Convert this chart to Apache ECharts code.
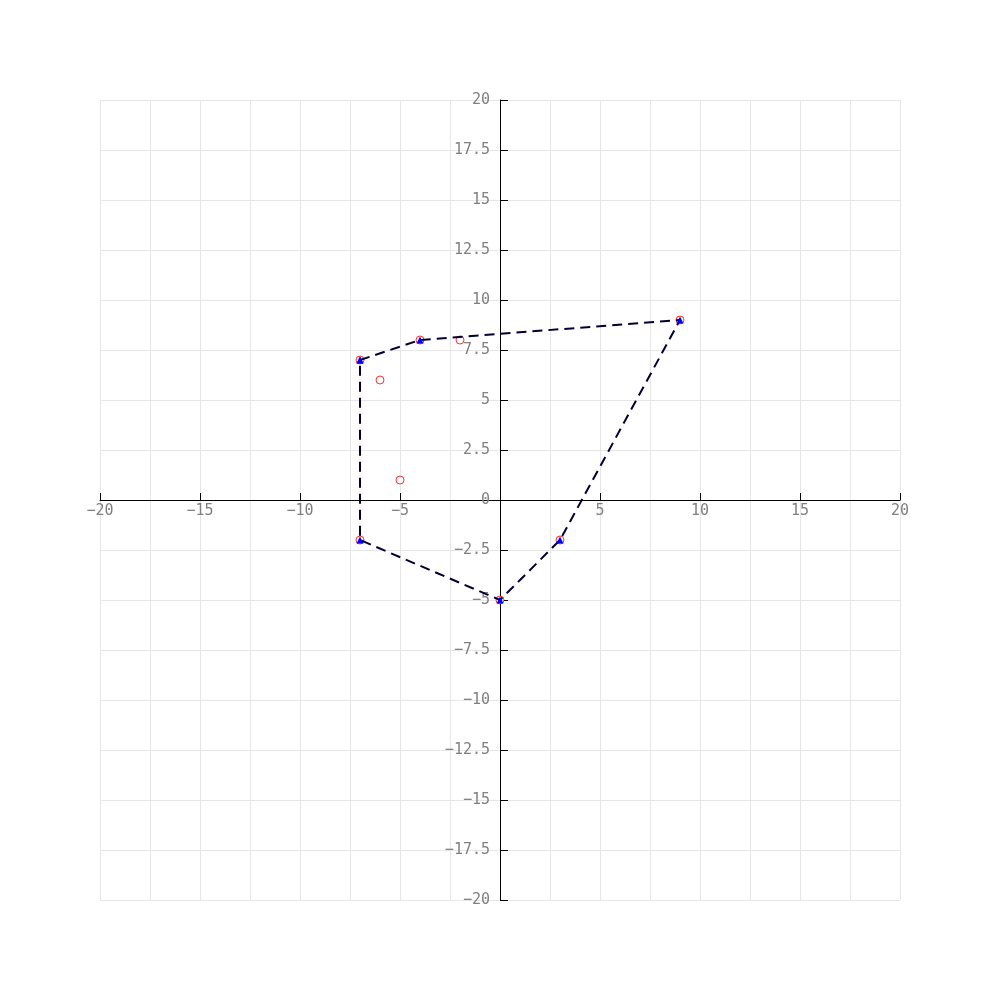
<!DOCTYPE html>
<html>
<head>
<meta charset="utf-8">
<script src="https://cdn.jsdelivr.net/npm/echarts@6/dist/echarts.min.js"></script>
<style>html,body{margin:0;padding:0;background:#fff}#c{width:1000px;height:1000px}</style>
</head>
<body>
<div id="c"></div>
<script>
var pointsX = [-7, -6, -4, -2, 9, -5, -7, 0, 3];
var pointsY = [7, 6, 8, 8, 9, 1, -2, -5, -2];
var hullX = [-7, -4, 9, 3, 0, -7, -7];
var hullY = [7, 8, 9, -2, -5, -2, 7];

var pts = pointsX.map(function (x, i) { return [x, pointsY[i]]; });
var hull = hullX.map(function (x, i) { return [x, hullY[i]]; });

var font = '"DejaVu Sans Mono", monospace';
var chart = echarts.init(document.getElementById('c'));
chart.setOption({
  animation: false,
  backgroundColor: '#fff',
  grid: { left: 100, right: 100, top: 100, bottom: 100 },
  xAxis: {
    type: 'value', min: -20, max: 20, interval: 5,
    position: 'bottom', offset: -400,
    axisLine: { onZero: false, lineStyle: { color: '#000', width: 1 } },
    axisTick: { inside: true, length: 7, lineStyle: { color: '#000' } },
    axisLabel: { color: '#808080', fontFamily: font, fontSize: 15, margin: 4,
      formatter: function (v) { return v === 0 ? '' : String(v).replace('-', '\u2212'); } },
    splitLine: { show: true, lineStyle: { color: '#e6e6e6' } },
    minorTick: { show: false, splitNumber: 2 },
    minorSplitLine: { show: true, lineStyle: { color: '#e6e6e6' } }
  },
  yAxis: {
    type: 'value', min: -20, max: 20, interval: 2.5,
    position: 'left', offset: -400,
    axisLine: { onZero: false, lineStyle: { color: '#000', width: 1 } },
    axisTick: { inside: true, length: 8, lineStyle: { color: '#000' } },
    axisLabel: { color: '#808080', fontFamily: font, fontSize: 15, margin: 10,
      formatter: function (v) { return String(v).replace('-', '\u2212'); } },
    splitLine: { show: true, lineStyle: { color: '#e6e6e6' } }
  },
  series: [
    {
      type: 'scatter', data: pts, symbol: 'circle', symbolSize: 8,
      itemStyle: { color: '#fff', borderColor: '#ff0000', borderWidth: 1 },
      z: 3
    },
    {
      type: 'line', data: hull, symbol: 'triangle', symbolSize: 7, showSymbol: true,
      itemStyle: { color: '#0000ff', borderWidth: 0 },
      lineStyle: { color: '#000033', width: 2, type: [10, 6] },
      z: 4
    }
  ]
});
</script>
</body>
</html>
